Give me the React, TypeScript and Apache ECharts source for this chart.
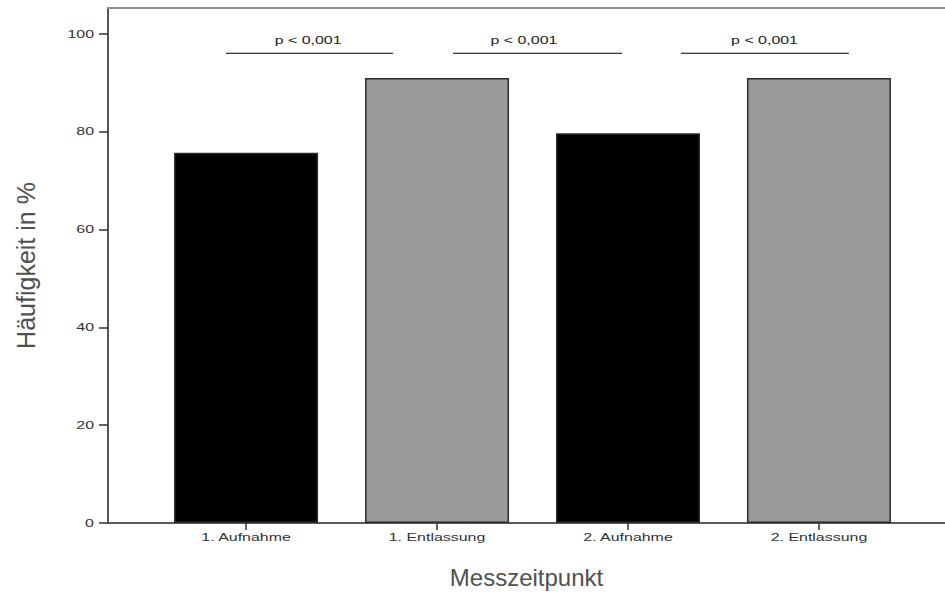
import React, { useEffect, useRef } from "react";
import * as echarts from "echarts";

// ---- data ----
const categories = ["1. Aufnahme", "1. Entlassung", "2. Aufnahme", "2. Entlassung"];
const values = [75.7, 91.0, 79.7, 91.0];
const yTickValues = [0, 20, 40, 60, 80, 100];
const sigLabels = ["p < 0,001", "p < 0,001", "p < 0,001"];
const sigStart = [0.895, 2.084, 3.277];
const sigEnd = [1.77, 2.969, 4.157];
const sigLabelAt = [1.325, 2.455, 3.715];
const sigLevel = [96.05, 96.05, 96.05];

// ---- axis ranges & styles ----
const X_MIN = 0.277;
const X_MAX = 4.66;
const Y_MAX = 105.3;
const barFill = ["#000000", "#999999", "#000000", "#999999"];
const FONT = "'Liberation Sans', Arial, Helvetica, sans-serif";
const STRETCH = 1.45;

export default function App() {
  const ref = useRef<HTMLDivElement>(null);

  useEffect(() => {
    const chart = echarts.init(ref.current!, null, { renderer: "svg" });
    chart.setOption({
      animation: false,
      backgroundColor: "#ffffff",
      textStyle: { fontFamily: FONT },
      grid: { left: 108, right: 0, top: 8, bottom: 70 },
      xAxis: [
        {
          type: "value",
          min: X_MIN,
          max: X_MAX,
          name: "Messzeitpunkt",
          nameLocation: "middle",
          nameGap: 42,
          nameTextStyle: { fontSize: 24, color: "#505050", fontFamily: FONT },
          axisLine: { show: true, onZero: false, lineStyle: { color: "#5a5a5a", width: 2 } },
          axisTick: {
            show: true,
            customValues: [1, 2, 3, 4],
            length: 7,
            lineStyle: { color: "#333333", width: 1.5 },
          },
          axisLabel: { show: false },
          splitLine: { show: false },
        },
        {
          type: "value",
          position: "top",
          min: X_MIN,
          max: X_MAX,
          axisLine: { show: true, onZero: false, lineStyle: { color: "#8f8f8f", width: 2 } },
          axisTick: { show: false },
          axisLabel: { show: false },
          splitLine: { show: false },
        },
      ],
      yAxis: {
        type: "value",
        min: 0,
        max: Y_MAX,
        name: "Häufigkeit in %",
        nameLocation: "middle",
        nameGap: 70,
        nameTextStyle: { fontSize: 25, color: "#505050", fontFamily: FONT },
        axisLine: { show: true, onZero: false, lineStyle: { color: "#555555", width: 2 } },
        axisTick: {
          show: true,
          customValues: yTickValues,
          length: 9,
          lineStyle: { color: "#333333", width: 1.5 },
        },
        axisLabel: { show: false },
        splitLine: { show: false },
      },
      series: [
        {
          type: "bar",
          xAxisIndex: 0,
          yAxisIndex: 0,
          barWidth: 144,
          data: values.map((v, i) => ({
            value: [i + 1, v],
            itemStyle: { color: barFill[i], borderColor: "#2a2a2a", borderWidth: 1.5 },
          })),
        },
        ...sigStart.map((s, i) => ({
          type: "line",
          xAxisIndex: 0,
          yAxisIndex: 0,
          symbol: "none",
          silent: true,
          lineStyle: { color: "#000000", width: 1.2 },
          data: [
            [s, sigLevel[i]],
            [sigEnd[i], sigLevel[i]],
          ],
        })),
      ],
    });

    const px = (x: number, y: number) =>
      chart.convertToPixel({ xAxisIndex: 0, yAxisIndex: 0 }, [x, y]) as number[];

    const graphics: any[] = [];
    categories.forEach((c, i) => {
      const p = px(i + 1, 0);
      graphics.push({
        type: "text",
        x: p[0],
        y: p[1] + 9,
        scaleX: STRETCH,
        silent: true,
        style: {
          text: c,
          fontSize: 11,
          fontFamily: FONT,
          fill: "#333333",
          align: "center",
          verticalAlign: "top",
        },
      });
    });
    yTickValues.forEach((v) => {
      const p = px(X_MIN, v);
      graphics.push({
        type: "text",
        x: p[0] - 14,
        y: p[1],
        scaleX: STRETCH,
        silent: true,
        style: {
          text: String(v),
          fontSize: 11,
          fontFamily: FONT,
          fill: "#333333",
          align: "right",
          verticalAlign: "middle",
        },
      });
    });
    sigLabels.forEach((t, i) => {
      const p = px(sigLabelAt[i], sigLevel[i]);
      graphics.push({
        type: "text",
        x: p[0],
        y: p[1] - 13,
        scaleX: STRETCH,
        silent: true,
        style: {
          text: t,
          fontSize: 11,
          fontFamily: FONT,
          fill: "#222222",
          align: "center",
          verticalAlign: "middle",
        },
      });
    });
    chart.setOption({ graphic: graphics });

    return () => chart.dispose();
  }, []);

  return (
    <div
      ref={ref}
      style={{ position: "fixed", left: 0, top: 0, width: 945, height: 594, background: "#fff" }}
    />
  );
}
